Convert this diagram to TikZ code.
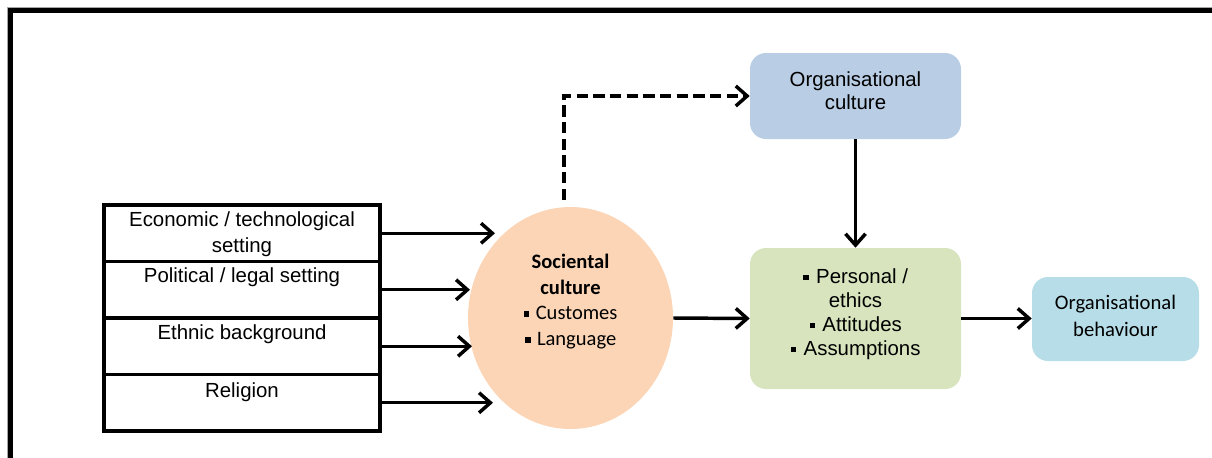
\documentclass[tikz,border=0pt]{standalone}
\usepackage{fontspec}
\setmainfont{Liberation Sans}
\newfontfamily\calibfont{Carlito}
\usetikzlibrary{arrows.meta,shapes.geometric}
% small square bullet
\newcommand\sqbul{\hspace{0.02em}\raisebox{0.14em}{\rule{0.27em}{0.27em}}\hspace{0.08em}}
\definecolor{peach}{HTML}{FBD5B5}
\definecolor{orgblue}{HTML}{B9CDE5}
\definecolor{sage}{HTML}{D7E4BD}
\definecolor{aqua}{HTML}{B7DEE8}
\begin{document}
\begin{tikzpicture}[x=0.75pt,y=-0.75pt,
  factor/.style={draw, line width=2.6pt, minimum width=207pt, minimum height=42.4pt, inner sep=0pt},
  factorlabel/.style={anchor=north, inner sep=0pt, align=center, font=\fontsize{15.3}{20}\selectfont},
  roundbox/.style={rounded corners=12pt, inner sep=0pt},
  boxlabel/.style={anchor=north, inner sep=0pt, align=center},
  flow/.style={line width=2.6pt, -{Straight Barb[length=8.5pt,width=15pt]}},
  dashflow/.style={flow, dash pattern=on 8.5pt off 4pt}
]
\clip (0,0) rectangle (1212,457);

% page frame
\draw[gray!70, line width=0.8pt] (7.2,470) -- (7.2,7.2) -- (1230,7.2);
\draw[line width=3.5pt] (10.8,470) -- (10.8,10.6) -- (1230,10.6);

% environmental factors
\node[factor] (b1) at (242,233.25) {};
\node[factor] (b2) at (242,289.75) {};
\node[factor] (b3) at (242,346.25) {};
\node[factor] (b4) at (242,402.75) {};
\node[factorlabel] (t1) at ([yshift=-6pt]b1.north) {Economic / technological\\setting};
\node[factorlabel] (t2) at ([yshift=-6pt]b2.north) {Political / legal setting};
\node[factorlabel] (t3) at ([yshift=-6.5pt]b3.north) {Ethnic background};
\node[factorlabel] (t4) at ([yshift=-7pt]b4.north) {Religion};

% societal culture
\node[ellipse, fill=peach, minimum width=153.75pt, minimum height=166.5pt, inner sep=0pt] (soc) at (570.5,318) {};
\node[boxlabel, font=\calibfont\fontsize{15.4}{19.2}\selectfont] (soctext) at (570.5,254)
  {\textbf{Sociental}\\\textbf{culture}\\\sqbul\ Customes\\\sqbul\ Language};

% organisational culture
\node[roundbox, fill=orgblue, minimum width=158.25pt, minimum height=64.5pt] (orgc) at (855.5,96) {};
\node[boxlabel, font=\fontsize{15.3}{17.5}\selectfont] (orgctext) at (855.5,71) {Organisational\\culture};

% individual level
\node[roundbox, fill=sage, minimum width=158.25pt, minimum height=105.75pt] (grn) at (855.5,318.5) {};
\node[boxlabel, font=\fontsize{15.3}{18}\selectfont] (grntext) at (855.5,268)
  {\sqbul\ Personal /\\ethics\\\sqbul\ Attitudes\\\sqbul\ Assumptions};

% organisational behaviour
\node[roundbox, fill=aqua, minimum width=125.25pt, minimum height=63pt] (ob) at (1115.5,319) {};
\node[boxlabel, font=\calibfont\fontsize{15.5}{20}\selectfont] (obtext) at (1115.5,295) {Organisational\\behaviour};

% connectors
\coordinate (e1) at (495,233.25);
\coordinate (e2) at (470,289.75);
\coordinate (e3) at (472,346.25);
\coordinate (e4) at (493,402.75);
\draw[flow] (b1.east) -- (e1);
\draw[flow] (b2.east) -- (e2);
\draw[flow] (b3.east) -- (e3);
\draw[flow] (b4.east) -- (e4);
\draw[flow] (soc.east) -- (grn.west);
\draw[flow] (grn.east) -- (grn.east -| ob.west);
\draw[flow] (orgc.south) -- (grn.north);
\coordinate (d0) at (564,200);
\draw[dashflow] (d0) |- (orgc.west);
\end{tikzpicture}
\end{document}
